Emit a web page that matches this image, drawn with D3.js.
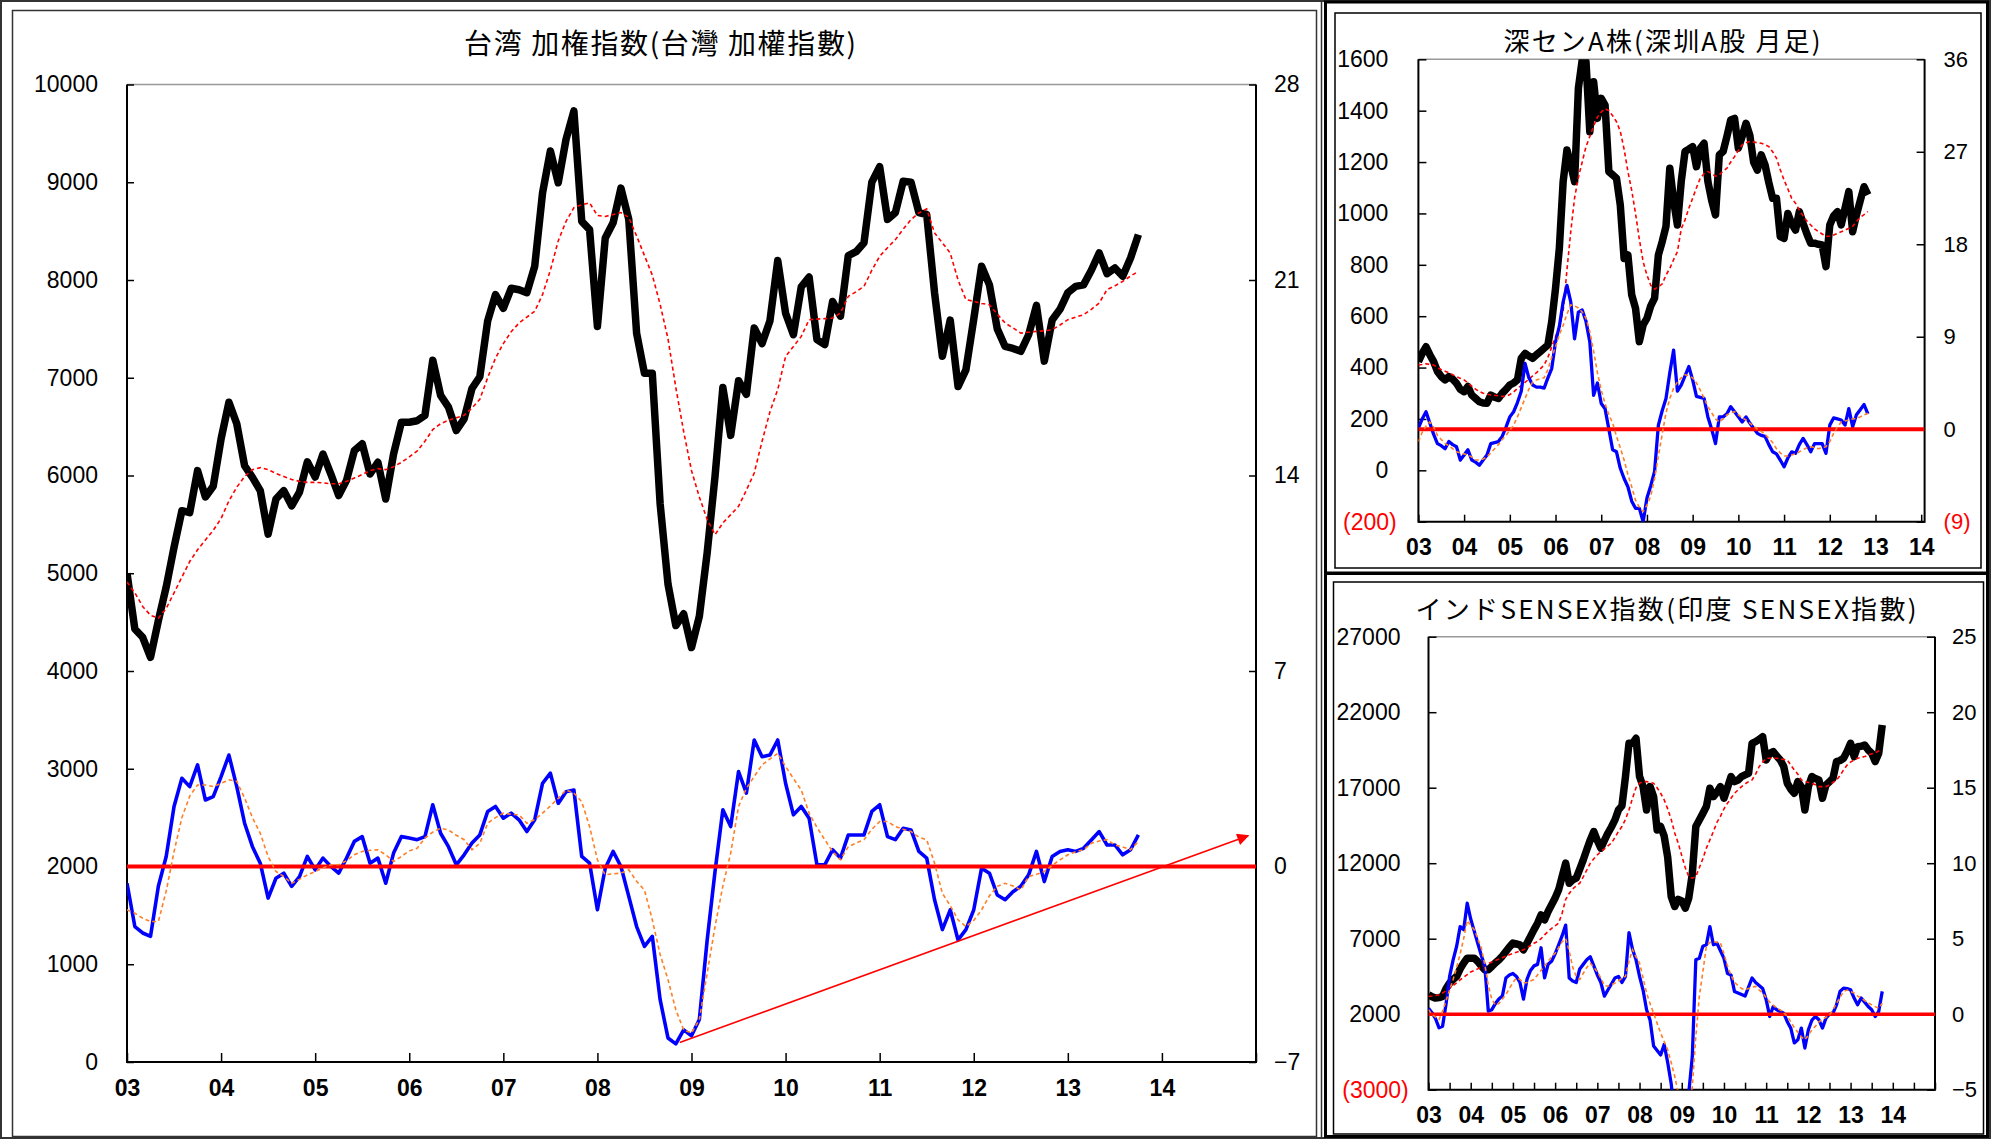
<!DOCTYPE html>
<html>
<head>
<meta charset="utf-8">
<script src="https://cdn.jsdelivr.net/npm/d3@7"></script>
<style>
body { margin: 0; background: #fff; }
svg { display: block; }
.axis text { font-family: "Liberation Sans", Arial, sans-serif; font-size: 23px; fill: #000; }
.axis.x text { font-weight: bold; }
.title { font-family: "Noto Sans CJK JP", sans-serif; fill: #000; }
</style>
</head>
<body>
<svg id="chart" width="1991" height="1139"></svg>
<script>
// year labels on the month axes (Jan 2003 = month 0)
var yearLabels = ['03','04','05','06','07','08','09','10','11','12','13','14'];

// Taiwan weighted index, monthly from Jan 2003
var twIndex = [5000,4430,4345,4140,4515,4860,5265,5640,5620,6050,5780,5890,
  6375,6750,6530,6100,5980,5845,5400,5760,5845,5690,5830,6140,
  5985,6220,6015,5795,5950,6255,6325,6015,6135,5760,6220,6545,
  6545,6560,6615,7180,6820,6700,6460,6580,6890,7010,7580,7850,
  7710,7915,7900,7870,8140,8890,9320,8995,9440,9730,8600,8515,
  7525,8430,8585,8940,8620,7455,7045,7045,5710,4890,4465,4585,
  4240,4560,5210,5990,6900,6410,6970,6830,7510,7350,7580,8200,
  7660,7440,7930,8030,7390,7340,7780,7630,8250,8290,8380,9000,
  9160,8620,8690,9010,9000,8690,8670,7870,7220,7590,6910,7080,
  7600,8140,7950,7500,7320,7300,7270,7440,7740,7170,7590,7700,
  7870,7935,7950,8100,8276,8065,8123,8038,8225,8464];
var twMa = [4910,4800,4660,4570,4540,4640,4800,4960,5120,5240,5340,5440,
  5560,5740,5880,5990,6060,6080,6060,6020,5990,5960,5940,5930,
  5930,5925,5915,5915,5940,5975,6010,6050,6070,6060,6090,6135,
  6190,6250,6350,6470,6530,6565,6590,6615,6690,6780,7000,7200,
  7350,7470,7560,7620,7680,7850,8100,8400,8600,8740,8770,8790,
  8660,8650,8670,8690,8640,8450,8250,8050,7750,7400,6900,6450,
  6050,5780,5550,5394,5514,5600,5684,5850,6025,6350,6650,6880,
  7218,7320,7423,7594,7600,7605,7611,7662,7833,7880,7935,8100,
  8242,8330,8413,8520,8618,8686,8727,8481,8380,8276,8000,7799,
  7782,7760,7747,7650,7560,7510,7457,7465,7474,7480,7491,7540,
  7594,7620,7645,7700,7765,7901,7940,7986,8040,8089];
// deviation (right axis) and its average
var twDev = [-0.60,-2.15,-2.38,-2.50,-0.71,0.36,2.15,3.16,2.86,3.64,2.38,2.50,
  3.22,3.99,2.86,1.55,0.71,0.12,-1.13,-0.42,-0.24,-0.71,-0.36,0.36,
  -0.12,0.30,0.00,-0.24,0.30,0.90,1.07,0.12,0.30,-0.60,0.48,1.07,
  1.02,0.96,1.07,2.21,1.19,0.71,0.06,0.42,0.84,1.13,1.97,2.15,
  1.73,1.91,1.67,1.25,1.67,2.98,3.34,2.26,2.68,2.74,0.36,0.12,
  -1.55,-0.06,0.54,0.00,-1.07,-2.15,-2.86,-2.50,-4.77,-6.14,-6.35,-5.85,
  -6.06,-5.48,-2.63,-0.18,2.03,1.43,3.40,2.63,4.53,3.93,3.99,4.53,
  2.98,1.85,2.15,1.73,0.06,0.06,0.60,0.30,1.13,1.13,1.13,1.97,
  2.21,1.07,0.96,1.37,1.31,0.54,0.30,-1.19,-2.26,-1.55,-2.63,-2.26,
  -1.55,-0.06,-0.24,-1.02,-1.19,-0.90,-0.71,-0.30,0.54,-0.54,0.36,0.54,
  0.60,0.54,0.65,0.95,1.25,0.77,0.77,0.42,0.60,1.13];
var twDevMa = [-1.55,-1.67,-1.85,-1.97,-1.97,-0.88,0.53,1.75,2.52,2.92,2.92,2.86,
  2.98,3.10,3.05,2.45,1.75,1.19,0.35,-0.18,-0.36,-0.60,-0.46,-0.30,
  -0.18,-0.05,0.06,0.06,0.21,0.42,0.54,0.58,0.60,0.42,0.18,0.36,
  0.56,0.65,1.02,1.23,1.37,1.31,1.12,0.96,0.60,0.83,1.55,1.75,
  1.91,1.87,1.85,1.55,1.68,1.91,2.17,2.44,2.74,2.63,2.32,1.43,
  0.24,-0.30,-0.26,-0.24,-0.12,-0.53,-0.84,-1.91,-3.15,-4.05,-5.13,-5.85,
  -5.96,-5.48,-3.82,-2.15,-0.70,0.48,2.15,2.80,3.22,3.64,3.85,4.05,
  3.58,3.15,2.74,1.91,1.40,0.96,0.53,0.24,0.71,0.84,0.96,1.33,
  1.61,1.61,1.43,1.33,1.25,1.05,0.96,0.12,-0.96,-1.40,-1.91,-2.15,
  -1.93,-1.55,-1.05,-0.71,-0.60,-0.70,-0.84,-0.36,-0.28,-0.18,0.04,0.24,
  0.42,0.53,0.60,0.83,0.91,0.96,0.77,0.70,0.60,0.90];
// support line drawn on the deviation: [month, value]
var twArrowFrom = [70.5, -6.3];
var twArrowTo = [143, 1.1];

// Shenzhen A-share index, monthly from Jan 2003
var szIndex = [423,455,481,450,423,385,365,352,365,355,339,315,
  306,326,293,280,267,262,261,293,285,280,300,315,
  332,340,352,436,455,445,436,450,462,475,488,579,
  708,864,1124,1247,1189,1124,1487,1597,1591,1318,1513,1370,
  1448,1422,1163,1150,1137,1033,825,838,683,631,501,566,
  592,640,670,838,890,950,1176,1050,955,1124,1241,1250,
  1260,1182,1254,1273,1124,1050,994,1228,1241,1300,1364,1370,
  1254,1300,1351,1305,1200,1169,1228,1189,1120,1059,1059,910,
  903,1000,960,935,1007,961,920,884,884,880,877,793,
  955,990,1007,955,1020,1085,929,994,1050,1104,1072];
var szMa = [410,412,415,412,410,400,392,386,380,372,365,358,
  352,340,328,316,307,300,296,293,292,290,288,288,
  295,305,319,330,342,355,368,380,395,410,440,480,
  520,560,620,780,929,1060,1140,1200,1260,1300,1340,1375,
  1395,1408,1400,1380,1357,1320,1250,1163,1090,1000,900,812,
  760,720,705,715,725,760,786,820,851,940,975,1020,
  1059,1100,1137,1155,1163,1155,1145,1150,1165,1176,1200,1221,
  1245,1267,1275,1280,1278,1275,1273,1268,1260,1240,1215,1170,
  1130,1095,1059,1040,1013,990,970,955,940,930,920,910,
  912,916,922,929,935,942,950,968,985,995,1007];
var szDev = [0.1,1.0,1.7,0.6,-0.5,-1.4,-1.6,-1.9,-1.2,-1.5,-1.7,-3.0,
  -2.5,-2.0,-3.0,-3.2,-3.5,-3.0,-2.5,-1.4,-1.3,-1.2,-0.7,0.2,
  1.2,1.7,2.6,3.7,6.4,5.0,4.3,4.1,4.1,4.0,5.0,5.9,
  8.5,10.0,12.4,14.0,12.4,8.8,11.4,11.6,10.5,8.5,3.3,4.5,
  2.5,2.0,0.0,-2.0,-2.2,-3.8,-4.8,-5.6,-7.0,-7.7,-7.7,-9.0,
  -6.7,-5.5,-4.1,0.4,1.8,3.0,5.5,7.7,3.7,4.3,5.2,6.1,
  4.8,3.2,3.1,3.0,1.2,0.0,-1.4,1.2,1.2,1.5,2.2,1.7,
  1.2,0.7,1.2,0.6,0.1,-0.4,-0.6,-0.7,-1.5,-2.2,-2.4,-3.0,
  -3.65,-2.8,-2.2,-2.35,-1.5,-0.9,-1.5,-2.2,-1.4,-1.4,-1.4,-2.35,
  0.4,1.1,1.0,0.9,0.4,2.0,0.25,1.4,1.9,2.4,1.5];
var szDevMa = [-1.2,-0.3,0.3,0.7,0.2,-0.6,-1.0,-1.4,-1.6,-1.9,-2.2,-2.3,
  -2.4,-2.5,-2.7,-3.0,-3.0,-2.9,-2.7,-2.3,-1.9,-1.5,-1.0,-0.6,
  -0.1,0.4,1.2,2.1,3.0,3.9,4.6,4.8,4.9,5.0,5.8,7.0,
  8.0,9.2,10.1,11.2,12.1,12.0,11.8,11.4,10.8,9.5,7.6,5.5,
  3.8,2.5,1.4,0.6,-0.7,-1.8,-3.0,-4.4,-5.6,-6.9,-7.6,-8.0,
  -7.4,-6.5,-4.8,-2.6,-0.5,1.6,3.0,4.0,4.6,5.0,5.3,5.2,
  5.0,4.5,3.8,3.0,2.2,1.6,1.0,0.7,1.0,1.4,1.6,1.7,
  1.4,1.1,0.9,0.6,0.3,0.0,-0.2,-0.5,-0.9,-1.3,-1.9,-2.3,
  -2.6,-2.6,-2.5,-2.4,-2.2,-2.0,-1.8,-1.7,-1.8,-1.9,-1.8,-1.7,
  -1.2,-0.4,0.2,0.7,0.8,0.9,1.0,1.05,1.2,1.4,1.55];

// India SENSEX, monthly from Jan 2003
var inIndex = [3286,3150,3065,3100,3176,3700,4058,4300,4500,5000,5381,5712,
  5712,5712,5491,5200,4940,4940,5160,5400,5602,5850,6154,6450,
  6706,6650,6595,6264,6700,7146,7600,8028,8580,8249,8800,9242,
  9700,10234,11117,12000,10676,10900,11007,11600,12220,12900,13543,14095,
  13500,12992,13500,13984,14400,14867,15528,15800,17734,19941,19941,20272,
  17734,17073,15528,17073,16400,14205,14426,13800,12400,9794,9132,9600,
  9500,9022,9700,11300,14426,14867,15300,15749,16963,16411,16700,17073,
  16301,17000,17734,17404,17500,17734,17850,17955,19941,20051,20200,20382,
  18838,19279,19390,19100,18838,18396,17293,16900,16632,17404,17073,15528,
  17073,17734,17600,17514,16301,17183,17400,17624,18727,18800,18948,19400,
  19941,19059,19720,19750,19830,19500,19279,18727,19279,21154];
var inMa = [3176,3200,3240,3286,3400,3560,3727,3900,4080,4279,4450,4620,
  4800,4900,5000,5120,5240,5350,5450,5560,5650,5740,5840,5933,
  6020,6100,6180,6264,6400,6550,6700,6816,7000,7250,7478,7680,
  7850,8028,8700,9600,10000,10300,10500,10676,11100,11550,12000,12300,
  12550,12771,12950,13150,13323,13700,14100,14426,14900,15528,16300,17000,
  17300,17404,17404,17350,17293,17000,16632,16200,15600,14900,14000,13323,
  12500,11700,11117,11007,11117,11700,12300,13000,13543,14100,14700,15100,
  15600,15970,16300,16632,16850,17073,17250,17400,17514,17900,18396,18700,
  18948,18948,18948,18948,18900,18870,18838,18500,18176,17900,17514,17400,
  17350,17293,17200,17073,17073,17073,17200,17350,17514,17800,18176,18500,
  18700,18838,18950,19000,19059,19150,19250,19300,19450,19500];
var inDev = [0.4,0.1,-0.3,-0.9,-0.8,0.7,2.5,3.6,4.5,5.8,5.6,7.35,
  6.3,5.5,4.7,3.9,3.2,0.2,0.3,0.7,1.0,1.2,2.4,2.6,
  2.7,2.5,2.1,1.0,2.3,2.9,3.2,3.3,4.4,2.4,3.3,3.5,
  4.0,4.6,5.2,5.9,2.4,2.2,2.1,3.0,3.3,3.6,3.8,3.2,
  2.6,2.1,1.2,1.6,2.0,2.4,2.5,2.1,2.5,5.4,4.3,3.6,
  2.5,1.6,0.3,-0.4,-2.1,-2.4,-2.7,-2.0,-3.2,-4.6,-6.8,-8.2,
  -8.6,-7.4,-5.2,-2.8,3.6,3.7,4.5,4.6,5.8,4.6,4.7,4.2,
  3.7,2.7,2.6,1.5,1.4,1.3,1.2,1.8,2.4,2.1,1.9,1.7,
  0.96,-0.15,0.5,0.3,0.18,0.07,-0.5,-0.92,-1.9,-1.7,-0.92,-2.24,
  -1.03,-0.4,-0.15,-0.37,-0.92,-0.26,0.0,0.07,0.62,1.51,1.73,1.7,
  1.62,1.07,0.62,1.07,0.8,0.51,0.29,-0.15,0.18,1.51];
var inDevMa = [0.3,0.0,-0.2,-0.35,0.2,0.9,1.6,2.3,3.1,4.0,5.0,6.2,
  5.9,5.6,5.0,4.4,3.3,1.9,1.0,0.6,0.7,1.0,1.3,1.7,
  2.1,2.4,2.3,2.06,2.1,2.2,2.3,2.6,2.9,3.2,3.5,3.8,
  4.04,4.4,4.8,5.0,4.2,3.1,2.5,2.3,2.7,3.1,3.38,3.1,
  2.8,2.4,1.9,1.85,1.95,2.06,2.2,2.4,2.5,3.5,4.27,3.8,
  3.38,2.4,1.4,0.7,0.07,-0.6,-1.25,-1.8,-2.35,-3.2,-4.12,-5.2,
  -6.5,-7.2,-6.8,-4.8,-1.5,1.2,2.8,4.5,4.75,4.82,4.75,4.71,
  4.0,3.2,2.6,2.1,1.9,1.7,1.62,1.7,1.8,1.84,1.6,1.4,
  1.1,0.8,0.6,0.4,0.29,0.1,-0.15,-0.5,-0.9,-1.2,-1.5,-1.69,
  -1.4,-1.03,-0.8,-0.5,-0.35,-0.2,-0.05,0.3,0.73,1.1,1.5,1.6,
  1.5,1.4,1.2,1.07,0.9,0.75,0.62,0.5,0.4,0.73];

var svg = d3.select('#chart');
svg.append('rect').attr('width', 1991).attr('height', 1139).attr('fill', '#fff');

var defs = svg.append('defs');
defs.append('marker')
  .attr('id', 'arrowHead')
  .attr('viewBox', '0 0 10 10')
  .attr('refX', 9).attr('refY', 5)
  .attr('markerUnits', 'userSpaceOnUse')
  .attr('markerWidth', 17).attr('markerHeight', 12)
  .attr('orient', 'auto')
  .append('path').attr('d', 'M0,0L10,5L0,10z').attr('fill', '#ff0000');

// panel frames
var frames = svg.append('g').attr('fill', 'none');
frames.append('rect').attr('x', 1).attr('y', 1).attr('width', 1989).attr('height', 1137)
  .attr('stroke', '#333').attr('stroke-width', 2);
frames.append('rect').attr('x', 12.5).attr('y', 10.5).attr('width', 1304).attr('height', 1126)
  .attr('stroke', '#333').attr('stroke-width', 1.5);
frames.append('line').attr('x1', 1321.5).attr('x2', 1321.5).attr('y1', 0).attr('y2', 1139)
  .attr('stroke', '#333').attr('stroke-width', 1.5);
frames.append('rect').attr('x', 1325.5).attr('y', 2).attr('width', 662).attr('height', 571)
  .attr('stroke', '#000').attr('stroke-width', 3);
frames.append('rect').attr('x', 1335).attr('y', 13).attr('width', 646).attr('height', 555)
  .attr('stroke', '#000').attr('stroke-width', 1.5);
frames.append('rect').attr('x', 1325.5).attr('y', 573.5).attr('width', 662).attr('height', 563)
  .attr('stroke', '#000').attr('stroke-width', 3);
frames.append('rect').attr('x', 1333.5).attr('y', 582).attr('width', 650).attr('height', 552)
  .attr('stroke', '#000').attr('stroke-width', 1.5);

var fmtParen = function(d){ return d < 0 ? '(' + Math.abs(d) + ')' : String(d); };
var fmtMinus = d3.format('d');

function styleAxis(g, fontSize, redNeg, hang){
  g.attr('font-family', null).attr('font-size', null);
  g.select('.domain').remove();
  g.selectAll('.tick line').attr('stroke', '#000').attr('stroke-width', 1.5);
  g.selectAll('.tick text')
    .style('font-size', fontSize + 'px')
    .style('fill', function(d){ return (redNeg && d < 0) ? '#ff0000' : '#000'; })
    .attr('dx', function(d){ return (hang && d < 0) ? '0.36em' : null; });
}

function drawPanel(p){
  var x = d3.scaleLinear().domain([0, p.span]).range([p.left, p.xEnd]);
  var yL = d3.scaleLinear().domain(p.leftDomain).range([p.bottom, p.top]);
  var yR = d3.scaleLinear().domain(p.rightDomain).range([p.bottom, p.top]);
  var g = svg.append('g');

  defs.append('clipPath').attr('id', 'clip-' + p.id).append('rect')
    .attr('x', p.left).attr('y', p.top)
    .attr('width', p.right - p.left).attr('height', p.bottom - p.top);

  g.append('text').attr('class', 'title')
    .attr('x', p.titleX).attr('y', p.titleY)
    .attr('text-anchor', 'middle')
    .attr('textLength', p.titleW).attr('lengthAdjust', 'spacing')
    .style('font-size', p.titleSize + 'px')
    .text(p.title);

  // plot frame: grey top, black sides and base
  g.append('line').attr('x1', p.left).attr('x2', p.right).attr('y1', p.top).attr('y2', p.top)
    .attr('stroke', '#999').attr('stroke-width', 1.5);
  g.append('path')
    .attr('d', 'M' + p.left + ',' + p.top + 'V' + p.bottom + 'H' + p.right + 'V' + p.top)
    .attr('fill', 'none').attr('stroke', '#000').attr('stroke-width', 2);

  var gl = g.append('g').attr('class', 'axis')
    .attr('transform', 'translate(' + p.left + ',0)')
    .call(d3.axisLeft(yL).tickValues(p.leftTicks).tickSizeInner(-p.tickLen).tickSizeOuter(0)
      .tickPadding(p.padLeft).tickFormat(p.leftFmt));
  styleAxis(gl, 23, p.leftFmt === fmtParen, true);

  var gr = g.append('g').attr('class', 'axis')
    .attr('transform', 'translate(' + p.right + ',0)')
    .call(d3.axisRight(yR).tickValues(p.rightTicks).tickSizeInner(-p.tickLen).tickSizeOuter(0)
      .tickPadding(p.padRight).tickFormat(p.rightFmt));
  styleAxis(gr, p.rightFont, p.rightFmt === fmtParen, false);

  var gx = g.append('g').attr('class', 'axis x')
    .attr('transform', 'translate(0,' + p.bottom + ')')
    .call(d3.axisBottom(x).tickValues(d3.range(0, p.span + 1, p.xTickStep))
      .tickSizeInner(-p.xTickLen).tickSizeOuter(0).tickPadding(p.padBottom)
      .tickFormat(function(d){ return (d % 12 === 0 && d / 12 < yearLabels.length) ? yearLabels[d / 12] : ''; }));
  styleAxis(gx, 23, false, false);

  var lineL = d3.line().x(function(d, i){ return x(i); }).y(function(d){ return yL(d); });
  var lineR = d3.line().x(function(d, i){ return x(i); }).y(function(d){ return yR(d); });

  var plot = g.append('g').attr('clip-path', 'url(#clip-' + p.id + ')').attr('fill', 'none');
  plot.append('path').datum(p.index).attr('d', lineL)
    .attr('stroke', '#000').attr('stroke-width', p.mainWidth).attr('stroke-linejoin', 'round');
  plot.append('path').datum(p.ma).attr('d', lineL)
    .attr('stroke', '#ff0000').attr('stroke-width', 1.6).attr('stroke-dasharray', '4,3');
  plot.append('path').datum(p.dev).attr('d', lineR)
    .attr('stroke', '#0000ff').attr('stroke-width', p.devWidth).attr('stroke-linejoin', 'round');
  plot.append('line')
    .attr('x1', p.left).attr('x2', p.right).attr('y1', yR(0)).attr('y2', yR(0))
    .attr('stroke', '#ff0000').attr('stroke-width', p.zeroWidth);
  plot.append('path').datum(p.devMa).attr('d', lineR)
    .attr('stroke', '#ff7f27').attr('stroke-width', 1.6).attr('stroke-dasharray', '4,3');

  return {x: x, yL: yL, yR: yR, g: g};
}

var tw = drawPanel({
  id: 'tw', title: '台湾 加権指数(台灣 加權指數)', titleX: 660, titleY: 54, titleW: 392, titleSize: 28,
  left: 127, right: 1256, xEnd: 1256, top: 84.5, bottom: 1062, span: 144, xTickStep: 12,
  leftDomain: [0, 10000], leftTicks: d3.range(0, 10001, 1000), leftFmt: fmtParen,
  rightDomain: [-7, 28], rightTicks: d3.range(-7, 29, 7), rightFmt: fmtMinus,
  tickLen: 7, xTickLen: 9, padLeft: 29, padRight: 18, padBottom: 18, rightFont: 23,
  index: twIndex, ma: twMa, dev: twDev, devMa: twDevMa,
  mainWidth: 7.5, devWidth: 3.6, zeroWidth: 4
});

tw.g.append('line')
  .attr('x1', tw.x(twArrowFrom[0])).attr('y1', tw.yR(twArrowFrom[1]))
  .attr('x2', tw.x(twArrowTo[0])).attr('y2', tw.yR(twArrowTo[1]))
  .attr('stroke', '#ff0000').attr('stroke-width', 1.6)
  .attr('marker-end', 'url(#arrowHead)');

drawPanel({
  id: 'sz', title: '深センA株(深圳A股 月足)', titleX: 1662, titleY: 50.5, titleW: 317, titleSize: 26,
  left: 1418.4, right: 1924.6, xEnd: 1921.2, top: 59.3, bottom: 521.7, span: 132, xTickStep: 12,
  leftDomain: [-200, 1600], leftTicks: d3.range(-200, 1601, 200), leftFmt: fmtParen,
  rightDomain: [-9, 36], rightTicks: d3.range(-9, 37, 9), rightFmt: fmtParen,
  tickLen: 8, xTickLen: 7, padLeft: 30, padRight: 19, padBottom: 17, rightFont: 22,
  index: szIndex, ma: szMa, dev: szDev, devMa: szDevMa,
  mainWidth: 7.5, devWidth: 3.3, zeroWidth: 4
});

drawPanel({
  id: 'in', title: 'インドSENSEX指数(印度 SENSEX指數)', titleX: 1666, titleY: 619, titleW: 501, titleSize: 26,
  left: 1428.5, right: 1935, xEnd: 1935, top: 636.7, bottom: 1089.7, span: 144, xTickStep: 6,
  leftDomain: [-3000, 27000], leftTicks: d3.range(-3000, 27001, 5000), leftFmt: fmtParen,
  rightDomain: [-5, 25], rightTicks: d3.range(-5, 26, 5), rightFmt: fmtMinus,
  tickLen: 8, xTickLen: 7, padLeft: 28, padRight: 17, padBottom: 17, rightFont: 22,
  index: inIndex, ma: inMa, dev: inDev, devMa: inDevMa,
  mainWidth: 7.5, devWidth: 3.3, zeroWidth: 3.5
});
</script>
</body>
</html>
